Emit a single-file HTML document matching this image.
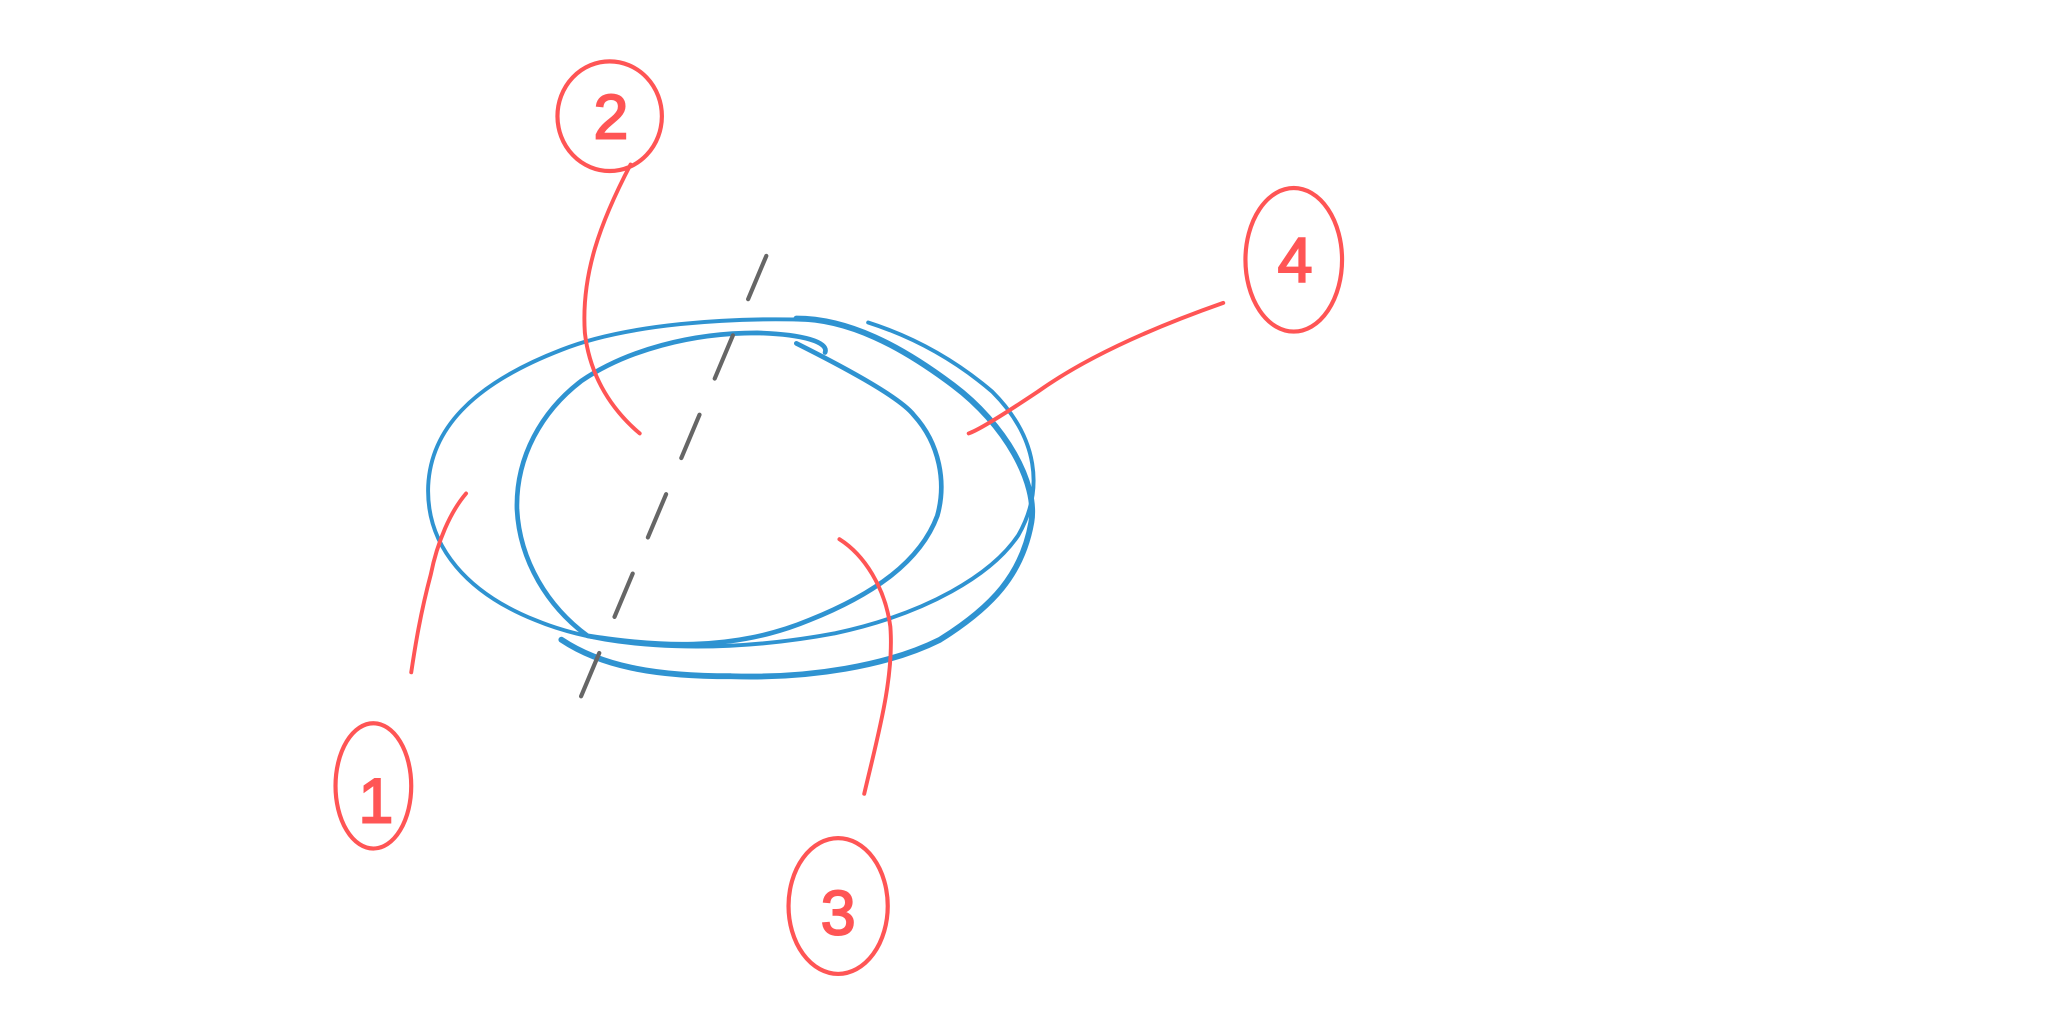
<!DOCTYPE html>
<html>
<head>
<meta charset="utf-8">
<style>
  html,body{margin:0;padding:0;background:#fff;}
  svg{display:block;}
  text{font-family:"Liberation Sans",sans-serif;}
</style>
</head>
<body>
<svg width="2047" height="1019" viewBox="0 0 2047 1019">
  <rect width="2047" height="1019" fill="#ffffff"/>
<g transform="scale(1.3055)">
  <g fill="none" stroke="#2f93d1" stroke-linecap="round">
    <path stroke-width="3"
      d="M620,245 C560,243 480,248 430,268 C360,295 330,330 328,372 C326,420 360,455 410,475 C470,500 560,500 640,485 C710,470 760,440 780,410 C800,375 795,335 760,300 C725,270 690,255 665,247"/>
    <path stroke-width="4.5"
      d="M610,244 C650,244 690,265 730,295 C770,325 795,370 790,400 C783,440 760,465 720,490 C680,510 620,520 560,518 C500,518 460,510 430,490"/>
    <path stroke-width="3.6"
      d="M610,263 C650,283 690,305 700,318 C720,340 725,370 718,395 C705,430 670,455 620,475 C560,500 500,495 450,487 C420,465 398,430 396,390 C395,350 415,315 445,292 C480,268 530,255 580,255 C615,256 635,262 632,270"/>
  </g>

  <path d="M587,196 L436,555" fill="none" stroke="#666" stroke-width="3.2" stroke-dasharray="36,30" stroke-linecap="round"/>

  <g fill="none" stroke="#f55" stroke-width="3" stroke-linecap="round">
    <path d="M483,126 C460,170 445,210 448,255 C452,290 470,315 490,332"/>
    <path d="M937,232 C880,252 830,275 795,300 C765,320 748,330 742,332"/>
    <path d="M357,378 C345,392 335,415 330,440 C322,470 318,495 315,515"/>
    <path d="M662,608 C672,565 685,520 682,480 C678,450 662,425 643,413"/>
  </g>

  <g fill="none" stroke="#f55" stroke-width="3.2">
    <ellipse cx="467" cy="89" rx="40" ry="42"/>
    <ellipse cx="991" cy="199" rx="37" ry="55"/>
    <ellipse cx="286" cy="602" rx="29" ry="48"/>
    <ellipse cx="642" cy="694" rx="38" ry="52"/>
  </g>
  <g fill="#f55" stroke="#f55" stroke-width="1.5" font-size="48" text-anchor="middle">
    <text x="468" y="106">2</text>
    <text x="992" y="216">4</text>
    <text x="288" y="630">1</text>
    <text x="642" y="716">3</text>
  </g>
</g>
</svg>
</body>
</html>
